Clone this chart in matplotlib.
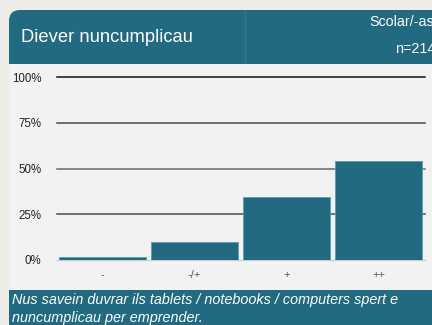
import matplotlib
matplotlib.use("Agg")
import matplotlib.pyplot as plt
from matplotlib.patches import FancyBboxPatch, Rectangle

plt.rcParams['font.family'] = ['Liberation Sans', 'DejaVu Sans']

# Data
categories = ["-", "-/+", "+", "++"]
shares = [1.4, 9.8, 34.6, 54.2]
y_ticks = [0, 25, 50, 75, 100]
y_tick_labels = ["0%", "25%", "50%", "75%", "100%"]
title = "Diever nuncumplicau"
group_label = "Scolar/-as"
n_label = "n=214"
statement = "Nus savein duvrar ils tablets / notebooks / computers spert e\nnuncumplicau per emprender."

W, H = 432, 325
teal = "#216a82"
outer_bg = "#edece6"
panel_bg = "#f2f2f2"

fig = plt.figure(figsize=(W / 100, H / 100), dpi=100)
fig.patch.set_facecolor(outer_bg)

# Background canvas in pixel coordinates (y grows downward)
bg = fig.add_axes([0, 0, 1, 1])
bg.set_xlim(0, W)
bg.set_ylim(H, 0)
bg.axis("off")

# Panel body
bg.add_patch(Rectangle((9, 60), W - 9, H - 60, facecolor=panel_bg, edgecolor="none"))
# Header with rounded top-left corner
bg.add_patch(FancyBboxPatch((9, 10), W + 20, 80, boxstyle="round,pad=0,rounding_size=11",
                            facecolor=teal, edgecolor="none"))
bg.plot([245, 245], [10, 64], color="#2f7890", lw=1, solid_capstyle="butt", zorder=1)
bg.add_patch(Rectangle((9, 64), W - 9, 30, facecolor=panel_bg, edgecolor="none", zorder=2))
# Footer
bg.add_patch(Rectangle((9, 290), W - 9, H - 290, facecolor=teal, edgecolor="none"))

bg.text(21, 38, title, color="white", fontsize=13.2, va="center", ha="left")
bg.text(369, 22, group_label, color="white", fontsize=10.3, va="center", ha="left")
bg.text(395, 49, n_label, color="white", fontsize=10.3, va="center", ha="left")
bg.text(12, 300, statement.split("\n")[0], color="white", fontsize=10.4, style="italic",
        va="center", ha="left")
bg.text(12, 318, statement.split("\n")[1], color="white", fontsize=10.4, style="italic",
        va="center", ha="left")

# Chart axes
left, right, top, bottom = 56.5, 424.5, 77, 260
ax = fig.add_axes([left / W, 1 - bottom / H, (right - left) / W, (bottom - top) / H])
ax.set_facecolor("none")
ax.set_xlim(-0.5, len(categories) - 0.5)
ax.set_ylim(0, 100)
for s in ax.spines.values():
    s.set_visible(False)

grid_colors = {0: "#cfcfcf", 25: "#4a4a4a", 50: "#6a6a6a", 75: "#4a4a4a", 100: "#111111"}
for v in y_ticks:
    ax.axhline(v, color=grid_colors[v], lw=1.1 if v else 1.0, zorder=1, clip_on=False)

ax.bar(range(len(categories)), shares, width=0.945, color=teal,
       edgecolor="#5f9ab0", linewidth=0.6, zorder=2)

ax.set_yticks(y_ticks)
ax.set_yticklabels(y_tick_labels, fontsize=8.3, color="#222222")
ax.set_xticks(range(len(categories)))
ax.set_xticklabels(categories, fontsize=8, color="#555555")
ax.tick_params(axis="y", length=0, pad=11)
ax.tick_params(axis="x", length=0, pad=7)

fig.savefig("out.png", dpi=100, facecolor=outer_bg)
